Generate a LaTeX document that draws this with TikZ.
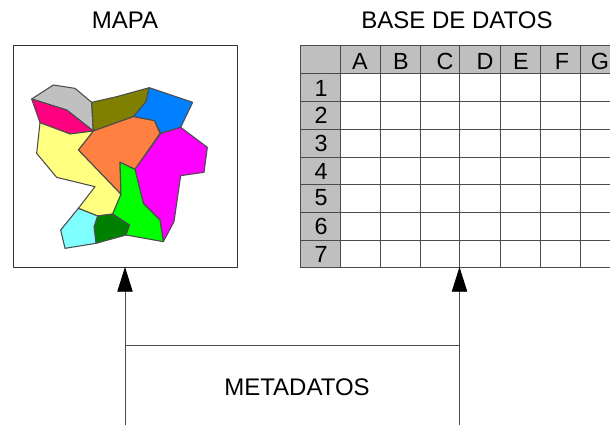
\documentclass[tikz,border=0pt]{standalone}
\usepackage{fontspec}
\setmainfont{Liberation Sans}
\usetikzlibrary{arrows.meta}
\definecolor{mapgrey}{HTML}{C0C0C0}
\definecolor{mappink}{HTML}{FF0080}
\definecolor{mapolive}{HTML}{808000}
\definecolor{mapblue}{HTML}{0080FF}
\definecolor{maporange}{HTML}{FF8040}
\definecolor{mapyellow}{HTML}{FFFF80}
\definecolor{mapmagenta}{HTML}{FF00FF}
\definecolor{mapgreen}{HTML}{00FF00}
\definecolor{mapforest}{HTML}{008000}
\definecolor{mapcyan}{HTML}{80FFFF}
\tikzset{
    title/.style={font=\fontsize{18}{20}\selectfont},
    head/.style={font=\fontsize{17.5}{20}\selectfont},
    region/.style={draw=black!70, line width=.8pt, line join=round},
    rule/.style={draw=black!70, line width=.6pt},
    link/.style={draw=black!70, line width=.6pt},
    linkhead/.style={link, -{Triangle[length=18.5pt,width=11.5pt,color=black]}}
}
\begin{document}
\begin{tikzpicture}[x=.75pt, y=-.75pt, line join = round]
    \useasboundingbox (0,0) rectangle (610,425);
    \node[title] (maplabel) at (125,20) {MAPA};
    \node[title] (baselabel) at (457,20) {BASE DE DATOS};
    \node[draw=black!80, line width=.6pt, minimum width=168pt, minimum height=166.5pt, inner sep=0pt, outer sep=0pt] (mapa) at (125,156) {};

    % regions, in a 3x grid
    \begin{scope}[x=.25pt, y=-.25pt, shift={(15pt,-45pt)}]
    \draw[region, fill=mapgrey] (35,117)--(100,75)--(165,85)--(215,127)--(220,213)--(140,150)--cycle;
    \draw[region, fill=mappink] (35,117)--(140,150)--(220,213)--(150,222)--(60,188)--cycle;
    \draw[region, fill=mapolive] (215,127)--(290,110)--(388,83)--(378,125)--(340,170)--(220,213)--cycle;
    \draw[region, fill=mapblue] (388,83)--(518,127)--(482,202)--(423,220)--(403,182)--(340,170)--(378,125)--cycle;
    \draw[region, fill=maporange] (220,213)--(340,170)--(403,182)--(420,220)--(345,328)--(300,307)--(303,403)--(175,270)--cycle;
    \draw[region, fill=mapyellow] (60,188)--(150,222)--(220,213)--(175,270)--(303,403)--(278,462)--(233,468)--(175,445)--(225,380)--(110,352)--(50,280)--cycle;
    \draw[region, fill=mapmagenta] (423,220)--(482,202)--(562,262)--(552,337)--(482,347)--(462,485)--(430,545)--(420,480)--(370,430)--(345,328)--cycle;
    \draw[region, fill=mapgreen] (300,307)--(345,328)--(370,430)--(420,480)--(430,545)--(318,525)--(328,495)--(278,462)--(303,403)--cycle;
    \draw[region, fill=mapforest] (233,468)--(278,462)--(328,495)--(318,525)--(228,550)--(222,500)--cycle;
    \draw[region, fill=mapcyan] (175,445)--(233,468)--(222,500)--(228,550)--(135,565)--(122,510)--cycle;
    \end{scope}

    % table
    \fill[black!25] (300,45) rectangle (610,73);
    \fill[black!25] (300,73) rectangle (340,267);
    \foreach \y in {45,73,101,129,157,184.5,212,240,267}
        \draw[rule] (300,\y)--(610,\y);
    \foreach \x in {300,340,380,420,459.5,500,540,580}
        \draw[rule] (\x,45)--(\x,267);
    \foreach \c/\x in {A/360,B/401,C/445,D/485,E/521,F/562,G/600}
        \node[head] (col\c) at (\x,61) {\c};
    \foreach \r/\y in {1/88,2/115,3/143,4/171,5/198,6/226,7/254}
        \node[head] (row\r) at (321,\y) {\r};

    \coordinate (basefoot) at (459.5,267);
    \coordinate (mapend) at (mapa.south |- 0,425);
    \coordinate (baseend) at (459.5,425);
    \coordinate (mapjoin) at (mapa.south |- 0,345);
    \coordinate (basejoin) at (459.5,345);
    \draw[linkhead] (mapend)--(mapa.south);
    \draw[linkhead] (baseend)--(basefoot);
    \draw[link] (mapjoin)--(basejoin);
    \node[title] (metadatos) at (297,387) {METADATOS};
\end{tikzpicture}
\end{document}
